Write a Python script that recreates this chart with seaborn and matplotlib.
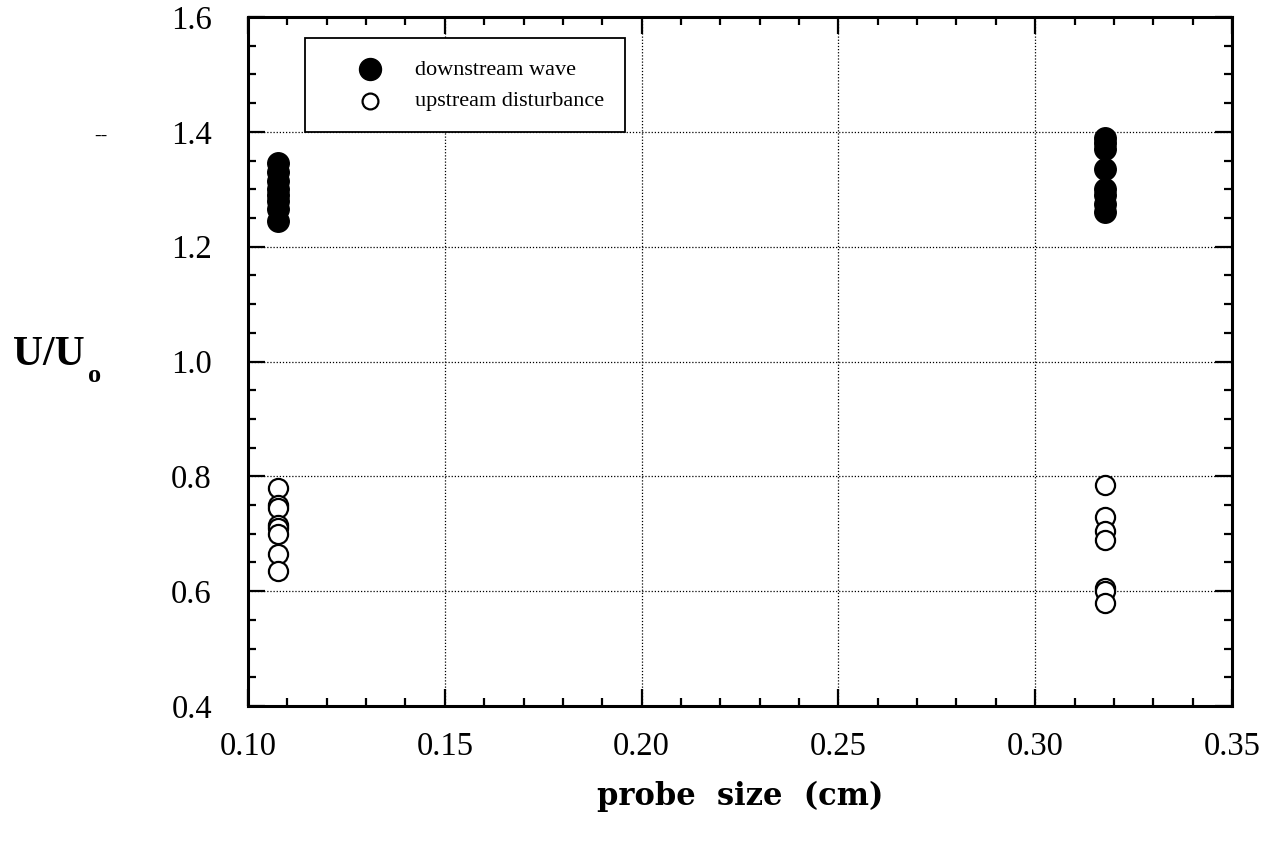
import numpy as np
import pandas as pd
import seaborn as sns
import matplotlib.pyplot as plt
import matplotlib.ticker as ticker

# probe sizes (cm) and measured U/Uo
probe_small = 0.1075
probe_large = 0.3178
down_small = [1.345, 1.33, 1.315, 1.30, 1.29, 1.28, 1.265, 1.245]
down_large = [1.39, 1.38, 1.37, 1.335, 1.30, 1.29, 1.275, 1.26]
up_small = [0.78, 0.75, 0.745, 0.715, 0.71, 0.70, 0.665, 0.635]
up_large = [0.785, 0.73, 0.705, 0.69, 0.605, 0.60, 0.58]

down = pd.DataFrame({'probe': [probe_small]*len(down_small) + [probe_large]*len(down_large),
                     'ratio': down_small + down_large})
up = pd.DataFrame({'probe': [probe_small]*len(up_small) + [probe_large]*len(up_large),
                   'ratio': up_small + up_large})

sns.set_style('ticks')
plt.rcParams['font.family'] = ['Liberation Serif', 'DejaVu Serif']
for k in ['text.color', 'axes.labelcolor', 'xtick.color', 'ytick.color', 'axes.edgecolor']:
    plt.rcParams[k] = 'black'

fig = plt.figure(figsize=(12.74, 8.42), dpi=100)
ax = fig.add_axes([0.1947, 0.1615, 0.7723, 0.8183])

sns.scatterplot(data=down, x='probe', y='ratio', ax=ax, s=240, color='black',
                edgecolor='black', linewidth=1.0, label='downstream wave', zorder=3)
sns.scatterplot(data=up, x='probe', y='ratio', ax=ax, s=190, facecolor='white',
                edgecolor='black', linewidth=1.6, label='upstream disturbance', zorder=3)

ax.set_xlim(0.10, 0.35)
ax.set_ylim(0.4, 1.6)
ax.xaxis.set_major_locator(ticker.MultipleLocator(0.05))
ax.xaxis.set_minor_locator(ticker.MultipleLocator(0.01))
ax.yaxis.set_major_locator(ticker.MultipleLocator(0.2))
ax.yaxis.set_minor_locator(ticker.MultipleLocator(0.05))
ax.xaxis.set_major_formatter(ticker.FormatStrFormatter('%.2f'))
ax.yaxis.set_major_formatter(ticker.FormatStrFormatter('%.1f'))

ax.tick_params(which='both', direction='in', top=True, right=True, width=1.6, color='black')
ax.tick_params(which='major', length=12)
ax.tick_params(which='minor', length=6)
ax.tick_params(axis='x', which='major', labelsize=23.5, pad=18)
ax.tick_params(axis='y', which='major', labelsize=23.5, pad=26)
for sp in ax.spines.values():
    sp.set_linewidth(2.2)
    sp.set_color('black')

ax.grid(True, which='major', linestyle=(0, (1, 1.5)), color='black', linewidth=0.9)
ax.set_axisbelow(True)

ax.set_xlabel('probe  size  (cm)', fontsize=22, fontweight='bold',
              family=['DejaVu Serif'], labelpad=14)
ax.set_ylabel('')
# y label drawn as U/U with a low subscript o
fig.text(0.010, 0.5665, 'U/U', fontsize=30, fontweight='bold', ha='left', va='baseline')
fig.text(0.069, 0.5463, 'o', fontsize=19, fontweight='bold', ha='left', va='baseline')
# small stray mark left of the axis in the original scan
fig.text(0.074, 0.838, '--', fontsize=14, ha='left', va='center')

leg = ax.legend(loc='upper left', bbox_to_anchor=(0.058, 0.9695), fontsize=16,
                frameon=True, fancybox=False, borderpad=0.95, handlelength=3.9,
                handletextpad=0.1, labelspacing=0.5, borderaxespad=0)
leg.get_frame().set_edgecolor('black')
leg.get_frame().set_linewidth(1.3)
leg.get_frame().set_alpha(1)
leg.legend_handles[0].set_sizes([250])
leg.legend_handles[1].set_sizes([130])

fig.savefig('out.png', dpi=100)
